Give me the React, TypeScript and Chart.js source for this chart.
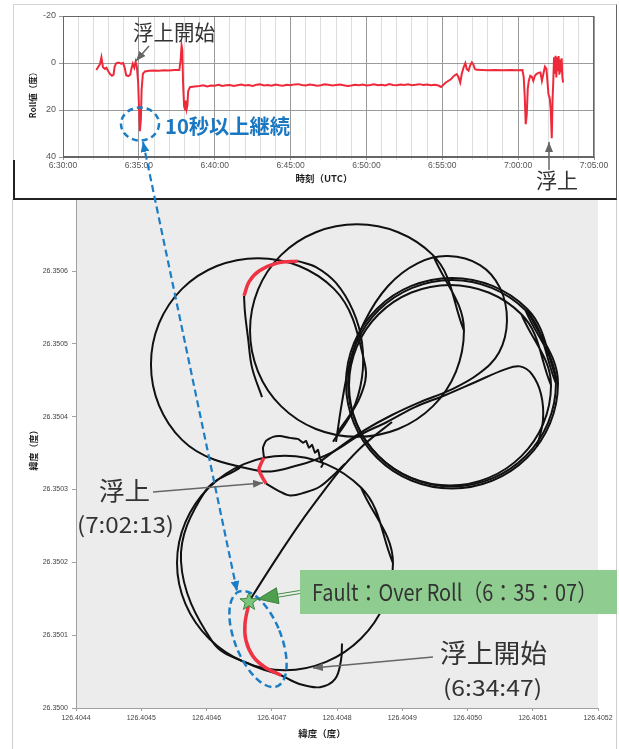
import React, { useEffect, useRef } from 'react';
import { Chart, registerables } from 'chart.js';

Chart.register(...registerables);

// ---------- Roll time series (top chart) ----------
const rollTimes = [
  '6:32:12', '6:32:20', '6:32:26', '6:32:32', '6:32:38', '6:32:46', '6:32:52', '6:32:58',
  '6:33:06', '6:33:14', '6:33:20', '6:33:24', '6:33:30', '6:33:40', '6:33:50', '6:33:58',
  '6:34:04', '6:34:10', '6:34:18', '6:34:26', '6:34:30', '6:34:36', '6:34:42', '6:34:47',
  '6:34:52', '6:34:57', '6:35:01', '6:35:04', '6:35:08', '6:35:11', '6:35:16', '6:35:24',
  '6:35:40', '6:36:00', '6:36:20', '6:36:40', '6:37:00', '6:37:20', '6:37:40', '6:37:45',
  '6:37:49', '6:37:52', '6:37:55', '6:37:59', '6:38:03', '6:38:06', '6:38:09', '6:38:12',
  '6:38:15', '6:38:22', '6:38:40',
  '6:39:00', '6:39:15', '6:39:30', '6:39:45', '6:40:00', '6:40:15', '6:40:30', '6:40:45',
  '6:41:00', '6:41:15', '6:41:30', '6:41:45', '6:42:00', '6:42:15', '6:42:30', '6:42:45',
  '6:43:00', '6:43:15', '6:43:30', '6:43:45', '6:44:00', '6:44:15', '6:44:30', '6:44:45',
  '6:45:00', '6:45:15', '6:45:30', '6:45:45', '6:46:00', '6:46:15', '6:46:30', '6:46:45',
  '6:47:00', '6:47:15', '6:47:30', '6:47:45', '6:48:00', '6:48:15', '6:48:30', '6:48:45',
  '6:49:00', '6:49:15', '6:49:30', '6:49:45', '6:50:00', '6:50:15', '6:50:30', '6:50:45',
  '6:51:00', '6:51:15', '6:51:30', '6:51:45', '6:52:00', '6:52:15', '6:52:30', '6:52:45',
  '6:53:00', '6:53:15', '6:53:30', '6:53:45', '6:54:00', '6:54:15', '6:54:30', '6:54:45',
  '6:54:55', '6:55:14', '6:55:34', '6:55:47', '6:55:57', '6:56:04', '6:56:11', '6:56:17',
  '6:56:24', '6:56:31', '6:56:37', '6:56:44', '6:56:50', '6:56:57', '6:57:02', '6:57:09',
  '6:57:16', '6:58:00', '6:58:30', '6:59:00', '6:59:30', '7:00:00', '7:00:17', '7:00:22',
  '7:00:26', '7:00:30', '7:00:34', '7:00:38', '7:00:42', '7:00:48', '7:00:54', '7:01:00',
  '7:01:06', '7:01:12', '7:01:20', '7:01:28', '7:01:34', '7:01:40', '7:01:46', '7:01:52',
  '7:01:56', '7:02:00', '7:02:05', '7:02:09', '7:02:13', '7:02:16', '7:02:19', '7:02:22',
  '7:02:25', '7:02:28', '7:02:31', '7:02:34', '7:02:37', '7:02:40', '7:02:43', '7:02:46',
  '7:02:49', '7:02:52', '7:02:55', '7:02:58',
];
const rollValues = [
  3.0, 1.5, 0.6, -2.4, 1.8, 2.5, 2.0, 3.3,
  4.7, 5.4, 5.0, 1.6, 0.1, -0.2, 0.3, 0.0,
  2.0, 5.2, 5.6, 5.0, 2.6, 0.3, 2.0, -0.5,
  1.6, 8.0, 20.0, 29.0, 24.0, 11.0, 4.5, 3.6,
  3.3, 3.2, 3.3, 3.1, 3.2, 3.0, 3.0, -1.0,
  -7.4, -5.5, 9.0, 18.5, 19.8, 16.0, 19.5, 18.0,
  12.0, 10.3, 10.0,
  9.8, 9.5, 10.0, 9.6, 9.7, 9.3, 9.8, 9.5,
  9.4, 9.8, 9.5, 9.2, 9.6, 9.4, 9.8, 9.3,
  9.1, 9.6, 9.4, 9.7, 9.2, 9.5, 9.7, 9.3,
  9.5, 9.1, 9.0, 9.4, 9.6, 9.2, 9.4, 9.7,
  9.5, 9.1, 9.3, 9.6, 9.4, 9.2, 9.5, 9.8,
  9.6, 9.3, 9.5, 9.2, 9.6, 9.4, 9.1, 9.5,
  9.3, 9.6, 9.0, 9.4, 9.5, 9.2, 9.4, 9.1,
  9.5, 9.3, 9.0, 9.4, 9.2, 9.5, 9.3, 9.6,
  10.2, 8.3, 6.9, 5.4, 4.7, 5.9, 8.3, 4.7,
  1.9, 0.1, 2.6, 3.3, 1.1, -0.3, 0.4, 2.6,
  2.9, 3.1, 3.0, 3.1, 3.0, 3.1, 3.0, 6.0,
  14.0, 26.0, 22.0, 11.0, 7.6, 5.4, 5.8, 7.6,
  5.5, 4.7, 4.2, 4.0, 7.6, 4.5, 1.6, 2.5,
  8.0, 13.3, 15.0, 20.0, 32.0, 16.0, 7.6, -2.4,
  4.7, -3.1, 6.2, -2.4, 3.5, -3.0, 5.0, -1.5,
  4.0, -2.0, 6.0, 8.3,
];

// ---------- Track (bottom chart), [longitude, latitude] ----------
const trackCircleA: [number, number][] = [
  [126.4048015, 26.3503791], [126.4048353, 26.3504268], [126.4048429, 26.3504718],
  [126.4047954, 26.3505755], [126.4046789, 26.3506177], [126.4045625, 26.3505755],
  [126.4045149, 26.3504718], [126.4045625, 26.3503682], [126.4046789, 26.3503259],
  [126.4047433, 26.3503341], [126.4047939, 26.3503518], [126.4048353, 26.350375],
  [126.4048766, 26.3503927], [126.4049195, 26.3504132], [126.4049655, 26.3504295],
  [126.4050115, 26.3504473], [126.4050575, 26.350465], [126.4050805, 26.3504691],
  [126.4050989, 26.3504582], [126.4051127, 26.3504309], [126.4051157, 26.3503955],
  [126.4051065, 26.3503586],
];
const trackCircleB: [number, number][] = [
  [126.4049946, 26.3505182], [126.4049471, 26.3506218], [126.4048307, 26.3506641],
  [126.4047142, 26.3506218], [126.4046667, 26.3505182], [126.4047142, 26.3504145],
  [126.4048307, 26.3503723], [126.4049471, 26.3504145], [126.4049946, 26.3505182],
  [126.4049471, 26.3506218],
];
const trackUpperIn: [number, number][] = [
  [126.4046851, 26.3504268], [126.4046697, 26.3504677], [126.4046636, 26.3505086],
  [126.404659, 26.3505427], [126.4046575, 26.3505659],
];
const trackUpperRed: [number, number][] = [
  [126.4046575, 26.3505659], [126.4046651, 26.350585], [126.4046805, 26.3506],
  [126.4047081, 26.3506109], [126.4047402, 26.3506136],
];
const trackUpperOut: [number, number][] = [
  [126.4047402, 26.3506136], [126.4047678, 26.3506055], [126.4047985, 26.3505836],
  [126.4048245, 26.3505455], [126.4048383, 26.3505018], [126.4048383, 26.3504541],
  [126.404823, 26.3504064], [126.4047939, 26.3503655],
];
const trackCircleC1: [number, number][] = [
  [126.4051356, 26.3504459], [126.4050889, 26.3505461], [126.4049762, 26.3505877],
  [126.4048636, 26.3505461], [126.4048169, 26.3504459], [126.4048636, 26.3503457],
  [126.4049762, 26.3503041], [126.4050889, 26.3503457], [126.4051356, 26.3504459],
  [126.4050889, 26.3505461],
];
const trackCircleC2: [number, number][] = [
  [126.405128, 26.3504432], [126.4050826, 26.3505406], [126.4049732, 26.3505809],
  [126.4048638, 26.3505406], [126.4048184, 26.3504432], [126.4048638, 26.3503458],
  [126.4049732, 26.3503055], [126.4050826, 26.3503458], [126.405128, 26.3504432],
  [126.4050826, 26.3505406],
];
const trackCircleC3: [number, number][] = [
  [126.4051387, 26.3504459], [126.4050912, 26.3505482], [126.4049762, 26.3505905],
  [126.4048613, 26.3505482], [126.4048138, 26.3504459], [126.4048613, 26.3503436],
  [126.4049762, 26.3503014], [126.4050912, 26.3503436], [126.4051387, 26.3504459],
  [126.4050912, 26.3505482],
];
const trackLoopD: [number, number][] = [
  [126.4047985, 26.3503655], [126.4048077, 26.35042], [126.4048199, 26.3504745],
  [126.4048414, 26.3505291], [126.4048782, 26.3505795], [126.4049241, 26.3506109],
  [126.4049701, 26.3506205], [126.4050192, 26.3506082], [126.4050498, 26.3505768],
  [126.4050605, 26.3505318], [126.4050483, 26.3504882], [126.4050161, 26.3504582],
  [126.4049732, 26.3504364], [126.4049272, 26.35042], [126.4048843, 26.3504023],
  [126.4048429, 26.3503818], [126.4048046, 26.3503586], [126.404774, 26.3503382],
];
const trackNorthEast: [number, number][] = [
  [126.4046651, 26.3501459], [126.4046851, 26.3501746], [126.4047126, 26.3502127],
  [126.4047433, 26.3502536], [126.404777, 26.3502946], [126.4048092, 26.3503314],
  [126.4048429, 26.3503627], [126.4048843, 26.3503927],
];
const trackSurfaceIn: [number, number][] = [
  [126.4048123, 26.3503355], [126.4047969, 26.3503218], [126.404774, 26.3503041],
  [126.404751, 26.3502959], [126.404728, 26.3502918], [126.4047096, 26.3502986],
  [126.4046912, 26.3503082],
];
const trackSurfaceRed: [number, number][] = [
  [126.4046912, 26.3503082], [126.4046851, 26.3503177], [126.4046805, 26.3503273],
  [126.4046835, 26.3503355], [126.4046881, 26.3503436],
];
const trackSurfaceOut: [number, number][] = [
  [126.4046881, 26.3503436], [126.4046866, 26.3503573], [126.4046912, 26.3503668],
  [126.4047019, 26.3503723], [126.4047126, 26.3503736], [126.404728, 26.3503709],
  [126.4047402, 26.3503695], [126.4047479, 26.3503641], [126.4047525, 26.3503668],
  [126.4047571, 26.3503573], [126.4047617, 26.3503614], [126.4047663, 26.3503505],
  [126.4047709, 26.3503545], [126.404774, 26.3503423], [126.4047786, 26.3503355],
  [126.4047755, 26.35033],
];
const trackCircleE: [number, number][] = [
  [126.4048858, 26.3501991], [126.4048368, 26.3503027], [126.4047203, 26.3503464],
  [126.4046038, 26.3503027], [126.4045548, 26.3501991], [126.4046038, 26.3500955],
  [126.4047203, 26.3500518], [126.4048368, 26.3500955], [126.4048858, 26.3501991],
  [126.4048368, 26.3503027],
];
const trackCircleEInner: [number, number][] = [
  [126.4046513, 26.35033], [126.4045977, 26.3502973], [126.4045609, 26.3502018],
  [126.40461, 26.35009], [126.4046667, 26.35006], [126.4047142, 26.350045],
];
const trackFaultRed: [number, number][] = [
  [126.4047142, 26.350045], [126.4046897, 26.3500559], [126.4046713, 26.3500709],
  [126.4046605, 26.3500927], [126.404659, 26.3501159], [126.4046651, 26.350144],
];
const trackHook: [number, number][] = [
  [126.4047142, 26.350045], [126.4047433, 26.3500327], [126.404774, 26.3500286],
  [126.4047969, 26.3500395], [126.4048061, 26.3500655], [126.4048077, 26.3500886],
];
const faultPoint: [number, number] = [126.4046651, 26.3501459];

const blackTracks = [
  trackCircleA, trackCircleB, trackUpperIn, trackUpperOut, trackCircleC1, trackCircleC2,
  trackCircleC3, trackLoopD, trackNorthEast, trackSurfaceIn, trackSurfaceOut,
  trackCircleE, trackCircleEInner, trackHook,
];
const redTracks = [trackUpperRed, trackSurfaceRed, trackFaultRed];

const TICK_FONT = "'Liberation Sans', Arial, sans-serif";
const JP_FONT = "'Noto Sans CJK JP', 'Noto Sans', sans-serif";

function toSeconds(t: string) {
  const [h, m, s] = t.split(':').map(Number);
  return h * 3600 + m * 60 + s - (6 * 3600 + 30 * 60);
}
function fmtTime(v: number) {
  const total = 6 * 3600 + 30 * 60 + v;
  const h = Math.floor(total / 3600);
  const m = Math.floor((total % 3600) / 60);
  const s = total % 60;
  return `${h}:${String(m).padStart(2, '0')}:${String(s).padStart(2, '0')}`;
}

type TitleItem = { text: string; x: number; y: number; rotate?: boolean; font: string };
function titlesPlugin(id: string, items: TitleItem[]) {
  return {
    id,
    afterDraw(chart: any) {
      const ctx = chart.ctx;
      items.forEach((it) => {
        ctx.save();
        ctx.font = it.font;
        ctx.fillStyle = '#1e1e1e';
        ctx.textAlign = 'center';
        ctx.textBaseline = 'middle';
        ctx.translate(it.x, it.y);
        if (it.rotate) ctx.rotate(-Math.PI / 2);
        ctx.fillText(it.text, 0, 0);
        ctx.restore();
      });
    },
  };
}

const framePlugin = {
  id: 'frame',
  afterDraw(chart: any) {
    const { ctx, chartArea: a } = chart;
    ctx.save();
    ctx.strokeStyle = '#666';
    ctx.lineWidth = 1;
    ctx.strokeRect(a.left + 0.5, a.top + 0.5, a.right - a.left - 1, a.bottom - a.top - 1);
    ctx.restore();
  },
};

const bgPlugin = {
  id: 'plotBg',
  beforeDraw(chart: any) {
    const { ctx, chartArea: a } = chart;
    ctx.save();
    ctx.fillStyle = '#ececec';
    ctx.fillRect(a.left, a.top, a.right - a.left, a.bottom - a.top);
    ctx.restore();
  },
};

const starPlugin = {
  id: 'faultStar',
  afterDatasetsDraw(chart: any) {
    const { ctx, scales } = chart;
    const cx = scales.x.getPixelForValue(faultPoint[0]);
    const cy = scales.y.getPixelForValue(faultPoint[1]);
    ctx.save();
    ctx.beginPath();
    for (let i = 0; i < 10; i++) {
      const r = i % 2 === 0 ? 9.5 : 4;
      const ang = -Math.PI / 2 + (i * Math.PI) / 5;
      const px = cx + r * Math.cos(ang);
      const py = cy + r * Math.sin(ang);
      if (i === 0) ctx.moveTo(px, py);
      else ctx.lineTo(px, py);
    }
    ctx.closePath();
    ctx.fillStyle = '#7cc47c';
    ctx.fill();
    ctx.strokeStyle = '#3c8a3c';
    ctx.lineWidth = 1;
    ctx.stroke();
    ctx.restore();
  },
};

export default function App() {
  const topRef = useRef<HTMLCanvasElement>(null);
  const botRef = useRef<HTMLCanvasElement>(null);

  useEffect(() => {
    const top = new Chart(topRef.current as HTMLCanvasElement, {
      type: 'scatter',
      data: {
        datasets: [
          {
            data: rollTimes.map((t, i) => ({ x: toSeconds(t), y: rollValues[i] })),
            showLine: true,
            borderColor: '#ee2a3a',
            borderWidth: 2,
            pointRadius: 0,
            tension: 0,
          },
        ],
      },
      options: {
        responsive: false,
        animation: false,
        events: [],
        layout: { padding: { left: 0, right: 25, top: 16, bottom: 0 } },
        plugins: { legend: { display: false }, tooltip: { enabled: false } },
        scales: {
          x: {
            type: 'linear',
            min: 0,
            max: 2100,
            afterFit: (s: any) => {
              s.height = 43;
            },
            ticks: {
              stepSize: 60,
              autoSkip: false,
              maxRotation: 0,
              minRotation: 0,
              padding: 1,
              color: '#555',
              font: { family: TICK_FONT, size: 8.5 },
              callback: (v: any) => (Number(v) % 300 === 0 ? fmtTime(Number(v)) : ''),
            },
            grid: {
              color: (c: any) => (c.tick && c.tick.value % 300 === 0 ? '#9a9a9a' : '#dedede'),
              tickLength: 3,
            },
            border: { display: true, color: '#666' },
          },
          y: {
            type: 'linear',
            min: -20,
            max: 40,
            reverse: true,
            afterFit: (s: any) => {
              s.width = 63;
            },
            ticks: { stepSize: 20, padding: 3, color: '#555', font: { family: TICK_FONT, size: 9 } },
            grid: { color: '#9a9a9a', tickLength: 4 },
            border: { display: true, color: '#666' },
          },
        },
      } as any,
      plugins: [
        framePlugin,
        titlesPlugin('topTitles', [
          { text: '時刻（UTC）', x: 324, y: 178, font: `bold 9.5px ${JP_FONT}` },
          { text: 'Roll値（度）', x: 33, y: 93, rotate: true, font: `bold 8.5px ${JP_FONT}` },
        ]),
      ],
    });

    const datasets: any[] = [];
    redTracks.forEach((t) =>
      datasets.push({
        data: t.map(([x, y]) => ({ x, y })),
        showLine: true,
        borderColor: '#ee3344',
        borderWidth: 3.5,
        pointRadius: 0,
        tension: 0.35,
      })
    );
    blackTracks.forEach((t) =>
      datasets.push({
        data: t.map(([x, y]) => ({ x, y })),
        showLine: true,
        borderColor: '#111',
        borderWidth: 2,
        pointRadius: 0,
        tension: t === trackSurfaceOut ? 0.15 : 0.375,
      })
    );

    const bot = new Chart(botRef.current as HTMLCanvasElement, {
      type: 'scatter',
      data: { datasets },
      options: {
        responsive: false,
        animation: false,
        events: [],
        layout: { padding: { left: 0, right: 21, top: 5, bottom: 0 } },
        plugins: { legend: { display: false }, tooltip: { enabled: false } },
        scales: {
          x: {
            type: 'linear',
            min: 126.4044,
            max: 126.4052,
            afterFit: (s: any) => {
              s.height = 41;
            },
            ticks: {
              stepSize: 0.0001,
              autoSkip: false,
              maxRotation: 0,
              padding: 3,
              color: '#444',
              font: { family: TICK_FONT, size: 7 },
              callback: (v: any) => Number(v).toFixed(4),
            },
            grid: { drawOnChartArea: false, drawTicks: true, tickLength: 3, color: '#a0a0a0' },
            border: { display: true, color: '#a0a0a0' },
          },
          y: {
            type: 'linear',
            min: 26.35,
            max: 26.3507,
            afterFit: (s: any) => {
              s.width = 76;
            },
            ticks: {
              stepSize: 0.0001,
              autoSkip: false,
              padding: 4,
              color: '#444',
              font: { family: TICK_FONT, size: 7 },
              callback: (v: any) => (Math.abs(Number(v) - 26.3507) < 1e-6 ? '' : Number(v).toFixed(4)),
            },
            grid: { drawOnChartArea: false, drawTicks: true, tickLength: 4, color: '#a0a0a0' },
            border: { display: true, color: '#a0a0a0' },
          },
        },
      } as any,
      plugins: [
        bgPlugin,
        starPlugin,
        titlesPlugin('botTitles', [
          { text: '緯度（度）', x: 322, y: 543, font: `bold 9.5px ${JP_FONT}` },
          { text: '緯度（度）', x: 34, y: 258, rotate: true, font: `bold 9px ${JP_FONT}` },
        ]),
      ],
    });

    return () => {
      top.destroy();
      bot.destroy();
    };
  }, []);

  const gray = '#333';
  return (
    <div style={{ position: 'fixed', left: 0, top: 0, width: 619, height: 749, background: '#fff', overflow: 'hidden' }}>
      <canvas ref={botRef} width={619} height={559} style={{ position: 'absolute', left: 0, top: 190 }} />
      <div style={{ position: 'absolute', left: 12, top: 199, width: 1, height: 550, background: '#cfcfcf' }} />
      <div style={{ position: 'absolute', left: 616, top: 199, width: 1, height: 550, background: '#cfcfcf' }} />
      <div
        style={{
          position: 'absolute', left: 13, top: 4, width: 604, height: 196, background: '#fff',
          borderTop: '1px solid #d4d4d4', borderLeft: '1px solid #d4d4d4', borderRight: '1px solid #666',
          borderBottom: '2px solid #222', boxSizing: 'border-box',
        }}
      />
      <div style={{ position: 'absolute', left: 13, top: 160, width: 2, height: 40, background: '#222' }} />
      <canvas ref={topRef} width={619} height={200} style={{ position: 'absolute', left: 0, top: 0 }} />
      <svg width={619} height={749} style={{ position: 'absolute', left: 0, top: 0, pointerEvents: 'none' }}>
        <defs>
          <marker id="grayHead" viewBox="0 0 10 8" refX="10" refY="4" markerWidth="10" markerHeight="8"
            markerUnits="userSpaceOnUse" orient="auto-start-reverse">
            <path d="M0,0 L10,4 L0,8 z" fill="#666" />
          </marker>
          <marker id="blueHead" viewBox="0 0 10 9" refX="10" refY="4.5" markerWidth="10" markerHeight="9"
            markerUnits="userSpaceOnUse" orient="auto-start-reverse">
            <path d="M0,0 L10,4.5 L0,9 z" fill="#1b7dc4" />
          </marker>
        </defs>
        {/* top annotations */}
        <text x={133} y={40} fontSize={21} fill={gray} fontFamily={JP_FONT} textLength={82} lengthAdjust="spacingAndGlyphs">浮上開始</text>
        <line x1={149} y1={46} x2={136} y2={61} stroke="#666" strokeWidth={1.5} markerEnd="url(#grayHead)" />
        <ellipse cx={140} cy={124} rx={19} ry={16.5} fill="none" stroke="#1b7dc4" strokeWidth={2.5} strokeDasharray="6 4" />
        <text x={165} y={134} fontSize={20} fontWeight={700} fill="#1a78c2" fontFamily={JP_FONT} textLength={125} lengthAdjust="spacingAndGlyphs">10秒以上継続</text>
        <text x={536} y={188} fontSize={21} fill={gray} fontFamily={JP_FONT} textLength={42} lengthAdjust="spacingAndGlyphs">浮上</text>
        <line x1={549} y1={170} x2={549} y2={142} stroke="#666" strokeWidth={1.5} markerEnd="url(#grayHead)" />
        {/* connecting dashed arrow */}
        <line x1={143} y1={142} x2={237} y2={591} stroke="#1b7dc4" strokeWidth={2.2} strokeDasharray="7 4"
          markerStart="url(#blueHead)" markerEnd="url(#blueHead)" />
        {/* bottom annotations */}
        <text x={99} y={500} fontSize={25} fill={gray} fontFamily={JP_FONT} textLength={51} lengthAdjust="spacingAndGlyphs">浮上</text>
        <text x={77} y={533} fontSize={22} fill={gray} fontFamily={JP_FONT} textLength={97} lengthAdjust="spacingAndGlyphs">(7:02:13)</text>
        <line x1={153} y1={492} x2={263} y2={483} stroke="#666" strokeWidth={1.5} markerEnd="url(#grayHead)" />
        <ellipse cx={258} cy={639} rx={23} ry={51} transform="rotate(-22 258 639)" fill="none" stroke="#1b7dc4"
          strokeWidth={2.5} strokeDasharray="7 4" />
        <rect x={300} y={570} width={317} height={44} fill="#8fcc8f" />
        <text x={312} y={601} fontSize={23} fill={gray} fontFamily={JP_FONT} textLength={285} lengthAdjust="spacingAndGlyphs">Fault：Over Roll（6：35：07）</text>
        <line x1={300.2} y1={593.5} x2={278} y2={597.2} stroke="#3f8f3f" strokeWidth={1} />
        <line x1={299.8} y1={590.5} x2={277.5} y2={594.2} stroke="#3f8f3f" strokeWidth={1} />
        <path d="M258,599 L279,603.6 L276.4,587.8 z" fill="#4f9f4f" stroke="#3a7f3a" strokeWidth={1} />
        <text x={440} y={663} fontSize={26} fill={gray} fontFamily={JP_FONT} textLength={107} lengthAdjust="spacingAndGlyphs">浮上開始</text>
        <text x={443} y={696} fontSize={22} fill={gray} fontFamily={JP_FONT} textLength={99} lengthAdjust="spacingAndGlyphs">(6:34:47)</text>
        <line x1={433} y1={657} x2={313} y2={668} stroke="#666" strokeWidth={1.5} markerEnd="url(#grayHead)" />
      </svg>
    </div>
  );
}
